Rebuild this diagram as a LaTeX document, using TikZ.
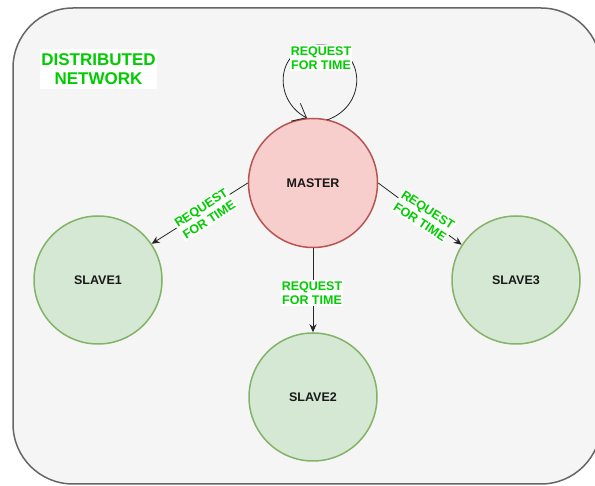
\documentclass[tikz,border=0pt]{standalone}
\usepackage{fontspec}
\setmainfont{Liberation Sans}
\usetikzlibrary{arrows.meta}
\definecolor{bgfill}{HTML}{F5F5F5}
\definecolor{bgline}{HTML}{666666}
\definecolor{mfill}{HTML}{F8CECC}
\definecolor{mline}{HTML}{B85450}
\definecolor{sfill}{HTML}{D5E8D4}
\definecolor{sline}{HTML}{82B366}
\definecolor{lblgreen}{HTML}{00CC00}
\tikzset{
  master/.style={circle, draw=mline, fill=mfill, line width=1.5pt, minimum size=129pt, inner sep=0pt, font=\fontsize{12.5}{15}\selectfont\bfseries, text=black!90},
  slave/.style={circle, draw=sline, fill=sfill, line width=1.5pt, minimum size=128pt, inner sep=0pt, font=\fontsize{12.5}{15}\selectfont\bfseries, text=black!90},
  elabel/.style={fill=white, inner sep=1pt, align=center, text=lblgreen, font=\fontsize{12.5}{14.5}\selectfont\bfseries},
  conn/.style={draw=black!85, line width=0.8pt, -{Stealth[length=8pt,width=7pt]}},
}
\begin{document}
\begin{tikzpicture}[x=1pt,y=-1pt]
\useasboundingbox (0,0) rectangle (595,486);
\draw[bgline, fill=bgfill, line width=1.5pt, rounded corners=60pt] (13,8) rectangle (601,484);
\node[fill=white, minimum width=117pt, minimum height=40pt, inner sep=0pt, align=center, text=lblgreen, font=\fontsize{17}{19.5}\selectfont\bfseries] (title) at (98.5,69) {DISTRIBUTED\\NETWORK};

\node[master] (m) at (313,183) {MASTER};
\node[slave] (s1) at (98,280) {SLAVE1};
\node[slave] (s2) at (313,397) {SLAVE2};
\node[slave] (s3) at (516,280) {SLAVE3};

\coordinate (ls) at (327,120);
\coordinate (lt) at (321,45);
\coordinate (le) at (307,118);
\draw[draw=black!85, line width=0.8pt] (ls) .. controls (370,105) and (365,45) .. (lt);
\draw[draw=black!85, line width=0.8pt, -{Straight Barb[length=12pt,width=20pt]}] (lt) .. controls (275,45) and (272,100) .. (le);
\node[elabel] (l0) at (321,58) {REQUEST\\FOR TIME};

\draw[conn] (m.west) -- (s1.34);
\draw[conn] (m.east) -- (s3.147);
\draw[conn] (m.south) -- (s2.north);

\node[elabel, rotate=33] (l1) at (205,214) {REQUEST\\FOR TIME};
\node[elabel, rotate=-33] (l3) at (424,216) {REQUEST\\FOR TIME};
\node[elabel] (l2) at (312,293) {REQUEST\\FOR TIME};
\end{tikzpicture}
\end{document}
